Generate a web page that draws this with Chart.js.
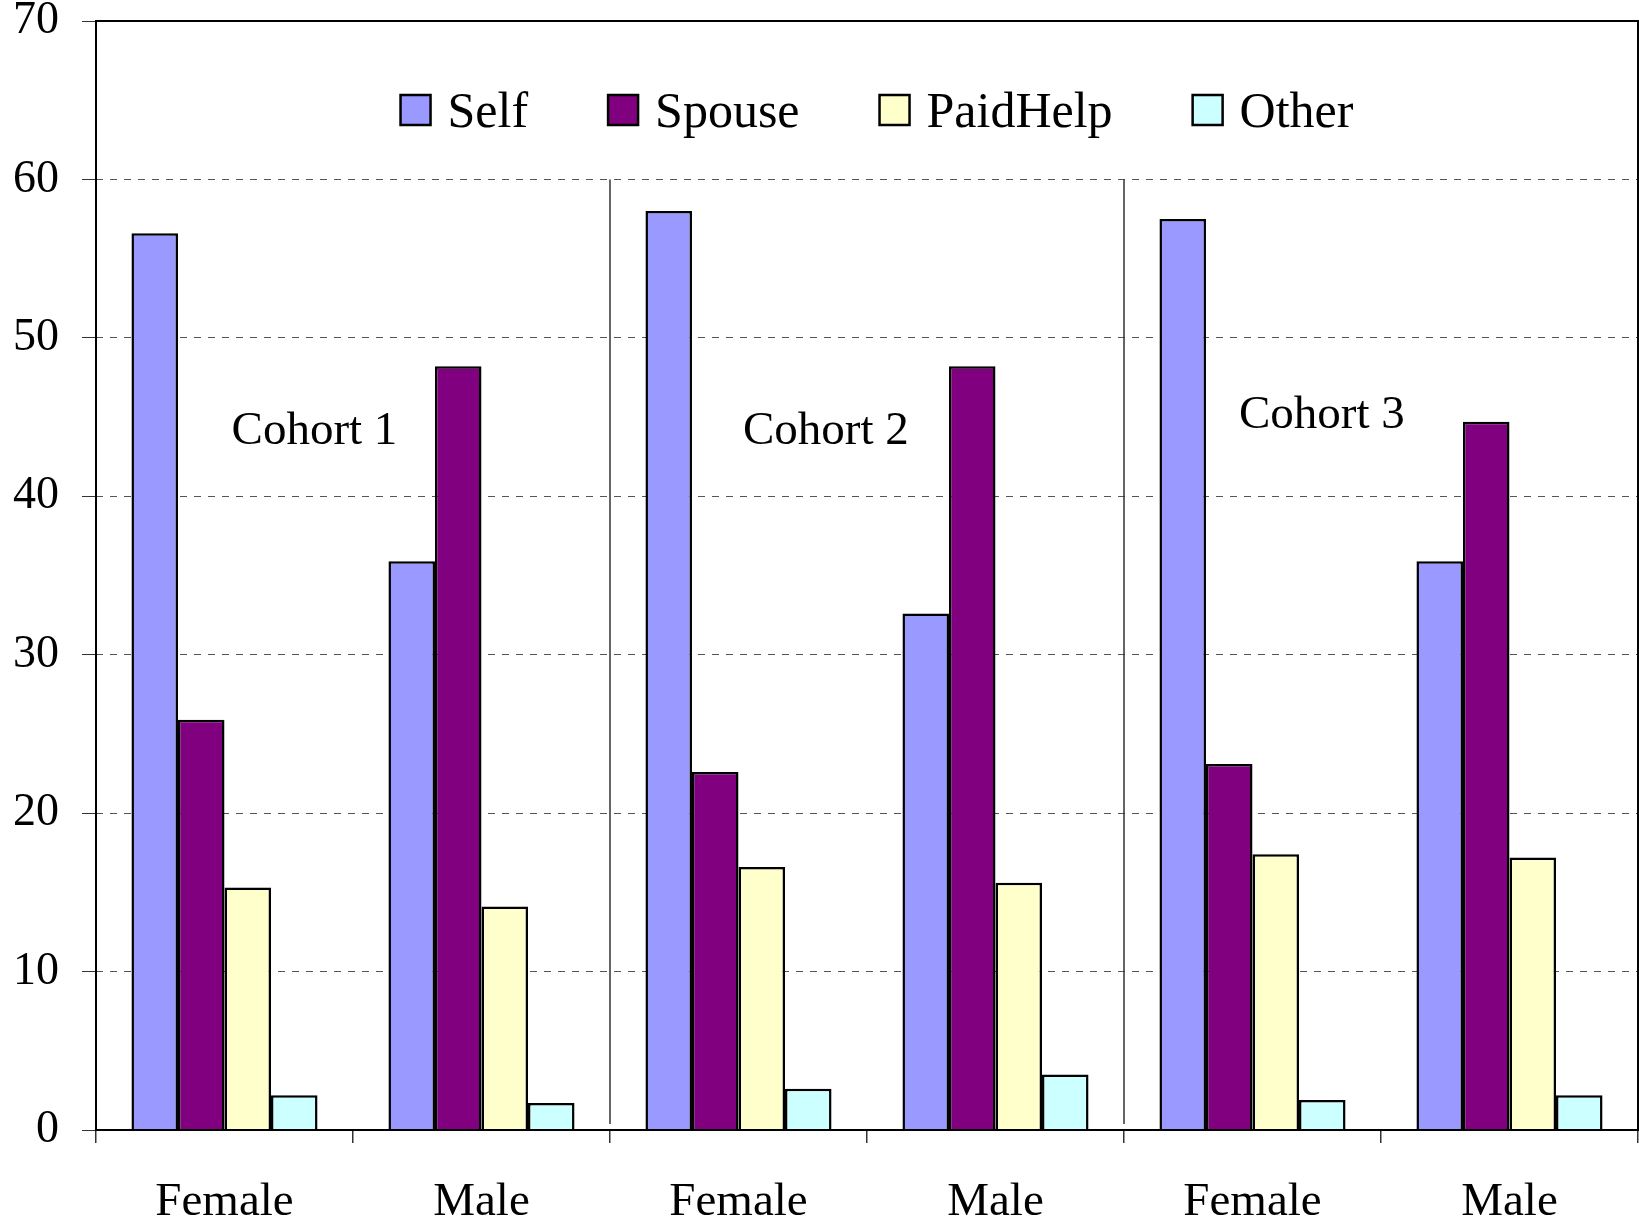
<!DOCTYPE html>
<html>
<head>
<meta charset="utf-8">
<script src="https://cdn.jsdelivr.net/npm/chart.js@4.4.0/dist/chart.umd.min.js"></script>
<style>
  html, body { margin: 0; padding: 0; background: #fff; }
</style>
</head>
<body>
<canvas id="chart" width="1639" height="1223"></canvas>
<script>
// data
const categories = ["Female", "Male", "Female", "Male", "Female", "Male"];
const seriesNames = ["Self", "Spouse", "PaidHelp", "Other"];
const selfValues = [56.6, 35.9, 58.0, 32.6, 57.5, 35.9];
const spouseValues = [25.9, 48.2, 22.6, 48.2, 23.1, 44.7];
const paidHelpValues = [15.3, 14.1, 16.6, 15.6, 17.4, 17.2];
const otherValues = [2.2, 1.7, 2.6, 3.5, 1.9, 2.2];
const yMin = 0, yMax = 70, yStep = 10;
const cohortNames = ["Cohort 1", "Cohort 2", "Cohort 3"];
const cohortAnchorX = [0.35, 2.34, 4.27]; // in category index units
const cohortAnchorY = [44.1, 44.1, 45.1];
const cohortSeparators = [1.5, 3.5];

const colors = ["#9999FF", "#800080", "#FFFFCC", "#CCFFFF"];
const FONT = "'Liberation Serif', 'Times New Roman', serif";

const decorations = {
  id: "decorations",
  afterDraw(chart) {
    const ctx = chart.ctx;
    const area = chart.chartArea;
    const x = chart.scales.x, y = chart.scales.y;
    ctx.save();

    // cohort separators
    ctx.strokeStyle = "#333";
    ctx.lineWidth = 1.5;
    cohortSeparators.forEach((v) => {
      const px = x.getPixelForValue(v);
      ctx.beginPath();
      ctx.moveTo(px, y.getPixelForValue(60));
      ctx.lineTo(px, y.getPixelForValue(0) - 6);
      ctx.stroke();
    });

    // cohort labels
    ctx.fillStyle = "#000";
    ctx.font = "47px " + FONT;
    ctx.textAlign = "center";
    ctx.textBaseline = "middle";
    cohortNames.forEach((name, i) => {
      ctx.fillText(name, x.getPixelForValue(cohortAnchorX[i]), y.getPixelForValue(cohortAnchorY[i]));
    });

    // legend inside plot
    ctx.font = "50px " + FONT;
    ctx.textAlign = "left";
    const box = 30, boxGap = 17, itemGap = 80;
    const widths = chart.data.datasets.map((d) => ctx.measureText(d.label).width);
    let total = 0;
    widths.forEach((w, i) => { total += box + boxGap + w + (i < widths.length - 1 ? itemGap : 0); });
    let lx = (area.left + area.right) / 2 + 10 - total / 2;
    const ly = 110;
    chart.data.datasets.forEach((d, i) => {
      ctx.fillStyle = d.backgroundColor;
      ctx.fillRect(lx, ly - box / 2, box, box);
      ctx.strokeStyle = "#000";
      ctx.lineWidth = 2.5;
      ctx.strokeRect(lx, ly - box / 2, box, box);
      ctx.fillStyle = "#000";
      ctx.fillText(d.label, lx + box + boxGap, ly + 4);
      lx += box + boxGap + widths[i] + itemGap;
    });

    // plot frame
    ctx.strokeStyle = "#000";
    ctx.lineWidth = 2;
    ctx.strokeRect(area.left, area.top, area.right - area.left, area.bottom - area.top);
    ctx.restore();
  },
};

new Chart(document.getElementById("chart"), {
  type: "bar",
  data: {
    labels: categories,
    datasets: [selfValues, spouseValues, paidHelpValues, otherValues].map((vals, i) => ({
      label: seriesNames[i],
      data: vals,
      backgroundColor: colors[i],
      borderColor: "#000",
      borderWidth: 2.5,
      categoryPercentage: 0.724,
      barPercentage: 1.0,
    })),
  },
  options: {
    responsive: false,
    animation: false,
    layout: { padding: { top: 21, right: 1, left: 0, bottom: 0 } },
    plugins: {
      legend: { display: false },
      tooltip: { enabled: false },
    },
    scales: {
      x: {
        offset: true,
        afterFit: (s) => { s.height = 93; },
        grid: {
          display: true,
          offset: true,
          drawOnChartArea: false,
          drawTicks: true,
          tickLength: 13,
          color: "#333",
          lineWidth: 1.5,
        },
        border: { display: true, color: "#000", width: 2 },
        ticks: {
          color: "#000",
          font: { family: FONT, size: 47 },
          padding: 31,
          maxRotation: 0,
        },
      },
      y: {
        min: yMin,
        max: yMax,
        afterFit: (s) => { s.width = 96; s.paddingTop = 0; s.paddingBottom = 0; },
        grid: {
          color: "#555",
          lineWidth: 1,
          drawTicks: true,
          tickLength: 14,
          tickColor: "#333",
        },
        border: { display: false, dash: [7, 7] },
        ticks: {
          stepSize: yStep,
          color: "#000",
          font: { family: FONT, size: 46 },
          padding: 23,
        },
      },
    },
  },
  plugins: [decorations],
});
</script>
</body>
</html>
